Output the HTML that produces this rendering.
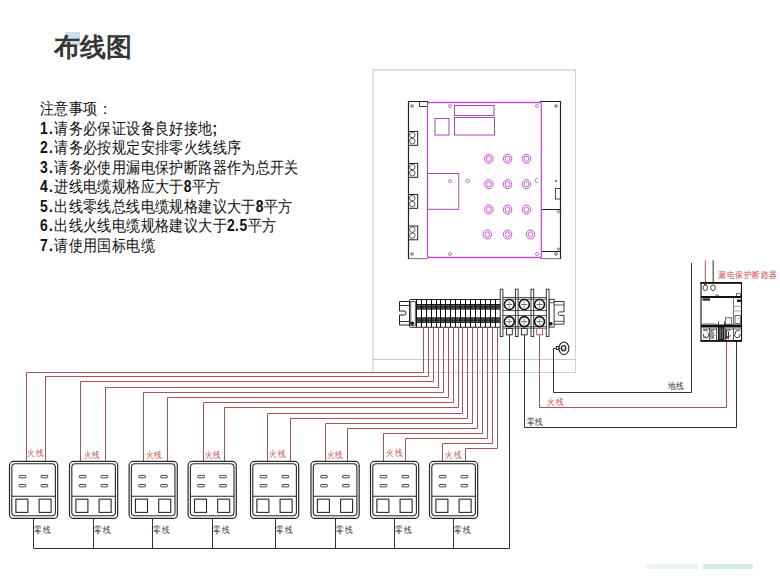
<!DOCTYPE html>
<html><head><meta charset="utf-8">
<style>
html,body{margin:0;padding:0;background:#fff;}
body{width:780px;height:585px;position:relative;overflow:hidden;font-family:"Liberation Sans",sans-serif;}
svg{position:absolute;left:0;top:0;}
.title{position:absolute;left:54px;top:27px;font-size:26px;font-weight:bold;color:#363636;letter-spacing:0px;line-height:40px;white-space:nowrap;}
.hl{position:absolute;left:65px;top:32px;width:15px;height:14px;background:#cde0ec;}
.notes{position:absolute;left:40px;top:99px;font-size:15.8px;line-height:19.5px;color:#111;white-space:nowrap;letter-spacing:0.35px;transform:scaleX(0.88);transform-origin:0 0;}
.notes b{font-weight:bold;letter-spacing:1.5px;}
.notes i{font-style:normal;font-weight:bold;letter-spacing:0.5px;}
.lr{font-size:9.2px;letter-spacing:0.3px;fill:#cc4a4e;font-family:"Liberation Sans",sans-serif;}
.lb{font-size:9.2px;letter-spacing:0.3px;fill:#333;font-family:"Liberation Sans",sans-serif;}
.lr2{font-size:9.2px;letter-spacing:0.4px;fill:#d24a4a;font-family:"Liberation Sans",sans-serif;}
.bar1{position:absolute;left:647px;top:564px;width:51px;height:5px;background:#e9f4f2;}
.bar2{position:absolute;left:703px;top:564px;width:50px;height:5px;background:#d3ece9;}
</style></head><body>
<div class="hl"></div>
<div class="title">布线图</div>
<div class="notes">注意事项：<br><b>1.</b>请务必保证设备良好接地<i>;</i><br><b>2.</b>请务必按规定安排零火线线序<br><b>3.</b>请务必使用漏电保护断路器作为总开关<br><b>4.</b>进线电缆规格应大于<i>8</i>平方<br><b>5.</b>出线零线总线电缆规格建议大于<i>8</i>平方<br><b>6.</b>出线火线电缆规格建议大于<i>2.5</i>平方<br><b>7.</b>请使用国标电缆</div>
<svg width="780" height="585" viewBox="0 0 780 585">
<path d="M373 372.5 V70 H575.5" fill="none" stroke="#e0e0e0" stroke-width="2"/>
<path d="M575.5 70 V372.5 H373" fill="none" stroke="#d2d2d2" stroke-width="1"/>
<line x1="373" y1="359.5" x2="575.5" y2="359.5" stroke="#c8c8c8" stroke-width="1"/>
<path d="M428 101.5 H408.5 V258.5 H428" fill="none" stroke="#222" stroke-width="1.2"/>
<path d="M540 101.5 H560.5 V258.5 H540" fill="none" stroke="#222" stroke-width="1.2"/>
<line x1="409" y1="258.6" x2="428" y2="258.6" stroke="#888" stroke-width="1.2"/>
<line x1="540" y1="258.6" x2="560" y2="258.6" stroke="#888" stroke-width="1.2"/>
<rect x="419.5" y="101.5" width="8" height="5" fill="none" stroke="#222" stroke-width="0.9"/>
<circle cx="412" cy="106" r="1.3" fill="none" stroke="#444" stroke-width="0.8"/>
<circle cx="556" cy="106" r="1.3" fill="none" stroke="#444" stroke-width="0.8"/>
<circle cx="412" cy="254" r="1.3" fill="none" stroke="#444" stroke-width="0.8"/>
<circle cx="556" cy="254" r="1.3" fill="none" stroke="#444" stroke-width="0.8"/>
<line x1="541" y1="209.5" x2="560.5" y2="209.5" stroke="#222" stroke-width="1"/>
<line x1="541" y1="251.5" x2="560.5" y2="251.5" stroke="#222" stroke-width="1"/>
<rect x="555.5" y="188.5" width="5" height="10.5" fill="none" stroke="#222" stroke-width="0.8"/>
<circle cx="556" cy="181" r="0.9" fill="#444"/>
<circle cx="558.5" cy="211.5" r="1.1" fill="none" stroke="#444" stroke-width="0.7"/>
<circle cx="558.5" cy="249" r="1.1" fill="none" stroke="#444" stroke-width="0.7"/>
<rect x="408.5" y="131.5" width="9.2" height="13.8" fill="#fff" stroke="#222" stroke-width="1"/>
<circle cx="412.3" cy="135.1" r="2.8" fill="none" stroke="#333" stroke-width="0.8"/>
<circle cx="412.3" cy="141.1" r="2.8" fill="none" stroke="#333" stroke-width="0.8"/>
<rect x="408.5" y="163.5" width="9.2" height="13.8" fill="#fff" stroke="#222" stroke-width="1"/>
<circle cx="412.3" cy="167.1" r="2.8" fill="none" stroke="#333" stroke-width="0.8"/>
<circle cx="412.3" cy="173.1" r="2.8" fill="none" stroke="#333" stroke-width="0.8"/>
<rect x="408.5" y="194.5" width="9.2" height="13.8" fill="#fff" stroke="#222" stroke-width="1"/>
<circle cx="412.3" cy="198.1" r="2.8" fill="none" stroke="#333" stroke-width="0.8"/>
<circle cx="412.3" cy="204.1" r="2.8" fill="none" stroke="#333" stroke-width="0.8"/>
<rect x="408.5" y="226" width="9.2" height="13.8" fill="#fff" stroke="#222" stroke-width="1"/>
<circle cx="412.3" cy="229.6" r="2.8" fill="none" stroke="#333" stroke-width="0.8"/>
<circle cx="412.3" cy="235.6" r="2.8" fill="none" stroke="#333" stroke-width="0.8"/>
<rect x="427.5" y="102.5" width="113.8" height="155" rx="2" fill="none" stroke="#c84fd6" stroke-width="1.3"/>
<rect x="454.5" y="105.5" width="39.5" height="10" fill="none" stroke="#a84aae" stroke-width="1"/>
<rect x="454.5" y="117.5" width="40" height="17.5" fill="none" stroke="#a84aae" stroke-width="1"/>
<rect x="435" y="118.5" width="14" height="16.5" fill="none" stroke="#a84aae" stroke-width="1"/>
<rect x="427.5" y="173.5" width="31.3" height="35.8" fill="none" stroke="#a84aae" stroke-width="1"/>
<circle cx="450" cy="106" r="1.5" fill="none" stroke="#c84fd6" stroke-width="0.8"/>
<circle cx="537" cy="106" r="1.5" fill="none" stroke="#c84fd6" stroke-width="0.8"/>
<circle cx="450" cy="254" r="1.5" fill="none" stroke="#c84fd6" stroke-width="0.8"/>
<circle cx="537" cy="254" r="1.5" fill="none" stroke="#c84fd6" stroke-width="0.8"/>
<circle cx="450" cy="181.2" r="1.5" fill="none" stroke="#c84fd6" stroke-width="0.8"/>
<circle cx="467.7" cy="181" r="1.8" fill="none" stroke="#c84fd6" stroke-width="0.8"/>
<path d="M538.2 178.6 A2 2.2 0 1 0 538.2 182.4" fill="none" stroke="#c84fd6" stroke-width="0.8"/>
<ellipse cx="488.8" cy="158.8" rx="4.2" ry="4.5" fill="none" stroke="#c84fd6" stroke-width="1"/>
<ellipse cx="488.8" cy="158.8" rx="2.3" ry="2.6" fill="none" stroke="#c84fd6" stroke-width="0.9"/>
<ellipse cx="507.6" cy="158.8" rx="4.2" ry="4.5" fill="none" stroke="#c84fd6" stroke-width="1"/>
<ellipse cx="507.6" cy="158.8" rx="2.3" ry="2.6" fill="none" stroke="#c84fd6" stroke-width="0.9"/>
<ellipse cx="526.4" cy="158.8" rx="4.2" ry="4.5" fill="none" stroke="#c84fd6" stroke-width="1"/>
<ellipse cx="526.4" cy="158.8" rx="2.3" ry="2.6" fill="none" stroke="#c84fd6" stroke-width="0.9"/>
<ellipse cx="488.8" cy="184.2" rx="4.2" ry="4.5" fill="none" stroke="#c84fd6" stroke-width="1"/>
<ellipse cx="488.8" cy="184.2" rx="2.3" ry="2.6" fill="none" stroke="#c84fd6" stroke-width="0.9"/>
<ellipse cx="507.6" cy="184.2" rx="4.2" ry="4.5" fill="none" stroke="#c84fd6" stroke-width="1"/>
<ellipse cx="507.6" cy="184.2" rx="2.3" ry="2.6" fill="none" stroke="#c84fd6" stroke-width="0.9"/>
<ellipse cx="526.4" cy="184.2" rx="4.2" ry="4.5" fill="none" stroke="#c84fd6" stroke-width="1"/>
<ellipse cx="526.4" cy="184.2" rx="2.3" ry="2.6" fill="none" stroke="#c84fd6" stroke-width="0.9"/>
<ellipse cx="488.8" cy="209.5" rx="4.2" ry="4.5" fill="none" stroke="#c84fd6" stroke-width="1"/>
<ellipse cx="488.8" cy="209.5" rx="2.3" ry="2.6" fill="none" stroke="#c84fd6" stroke-width="0.9"/>
<ellipse cx="507.6" cy="209.5" rx="4.2" ry="4.5" fill="none" stroke="#c84fd6" stroke-width="1"/>
<ellipse cx="507.6" cy="209.5" rx="2.3" ry="2.6" fill="none" stroke="#c84fd6" stroke-width="0.9"/>
<ellipse cx="526.4" cy="209.5" rx="4.2" ry="4.5" fill="none" stroke="#c84fd6" stroke-width="1"/>
<ellipse cx="526.4" cy="209.5" rx="2.3" ry="2.6" fill="none" stroke="#c84fd6" stroke-width="0.9"/>
<ellipse cx="487.3" cy="234.5" rx="4.2" ry="4.5" fill="none" stroke="#c84fd6" stroke-width="1"/>
<ellipse cx="487.3" cy="234.5" rx="2.3" ry="2.6" fill="none" stroke="#c84fd6" stroke-width="0.9"/>
<ellipse cx="507.6" cy="234.5" rx="4.2" ry="4.5" fill="none" stroke="#c84fd6" stroke-width="1"/>
<ellipse cx="507.6" cy="234.5" rx="2.3" ry="2.6" fill="none" stroke="#c84fd6" stroke-width="0.9"/>
<ellipse cx="530.5" cy="234.5" rx="4.2" ry="4.5" fill="none" stroke="#c84fd6" stroke-width="1"/>
<ellipse cx="530.5" cy="234.5" rx="2.3" ry="2.6" fill="none" stroke="#c84fd6" stroke-width="0.9"/>
<path d="M409.5 301.5 H399.5 V311 H404 A2 2 0 0 1 404 315 H399.5 V325 H409.5" fill="#fff" stroke="#222" stroke-width="1"/>
<line x1="399.5" y1="305.5" x2="409.5" y2="305.5" stroke="#222" stroke-width="0.9"/>
<line x1="399.5" y1="321.5" x2="409.5" y2="321.5" stroke="#222" stroke-width="0.9"/>
<rect x="409.5" y="299.5" width="91" height="27.8" rx="1" fill="#fff" stroke="#222" stroke-width="1"/>
<rect x="410.8" y="301.5" width="4.5" height="24" fill="#fff" stroke="#333" stroke-width="0.8"/>
<circle cx="412.3" cy="323.2" r="1.8" fill="#111"/>
<rect x="416.3" y="304" width="84" height="5.6" fill="#151515"/>
<rect x="416.3" y="317.3" width="84" height="5.6" fill="#151515"/>
<rect x="417.5" y="305.2" width="1.0" height="1.0" fill="#bbb"/>
<rect x="419.3" y="305.2" width="1.0" height="1.0" fill="#bbb"/>
<rect x="417.5" y="307.4" width="1.0" height="1.0" fill="#bbb"/>
<rect x="419.3" y="307.4" width="1.0" height="1.0" fill="#bbb"/>
<rect x="417.5" y="318.5" width="1.0" height="1.0" fill="#bbb"/>
<rect x="419.3" y="318.5" width="1.0" height="1.0" fill="#bbb"/>
<rect x="417.5" y="320.7" width="1.0" height="1.0" fill="#bbb"/>
<rect x="419.3" y="320.7" width="1.0" height="1.0" fill="#bbb"/>
<rect x="422.5" y="305.2" width="1.0" height="1.0" fill="#bbb"/>
<rect x="424.3" y="305.2" width="1.0" height="1.0" fill="#bbb"/>
<rect x="422.5" y="307.4" width="1.0" height="1.0" fill="#bbb"/>
<rect x="424.3" y="307.4" width="1.0" height="1.0" fill="#bbb"/>
<rect x="422.5" y="318.5" width="1.0" height="1.0" fill="#bbb"/>
<rect x="424.3" y="318.5" width="1.0" height="1.0" fill="#bbb"/>
<rect x="422.5" y="320.7" width="1.0" height="1.0" fill="#bbb"/>
<rect x="424.3" y="320.7" width="1.0" height="1.0" fill="#bbb"/>
<rect x="427.5" y="305.2" width="1.0" height="1.0" fill="#bbb"/>
<rect x="429.3" y="305.2" width="1.0" height="1.0" fill="#bbb"/>
<rect x="427.5" y="307.4" width="1.0" height="1.0" fill="#bbb"/>
<rect x="429.3" y="307.4" width="1.0" height="1.0" fill="#bbb"/>
<rect x="427.5" y="318.5" width="1.0" height="1.0" fill="#bbb"/>
<rect x="429.3" y="318.5" width="1.0" height="1.0" fill="#bbb"/>
<rect x="427.5" y="320.7" width="1.0" height="1.0" fill="#bbb"/>
<rect x="429.3" y="320.7" width="1.0" height="1.0" fill="#bbb"/>
<rect x="432.5" y="305.2" width="1.0" height="1.0" fill="#bbb"/>
<rect x="434.3" y="305.2" width="1.0" height="1.0" fill="#bbb"/>
<rect x="432.5" y="307.4" width="1.0" height="1.0" fill="#bbb"/>
<rect x="434.3" y="307.4" width="1.0" height="1.0" fill="#bbb"/>
<rect x="432.5" y="318.5" width="1.0" height="1.0" fill="#bbb"/>
<rect x="434.3" y="318.5" width="1.0" height="1.0" fill="#bbb"/>
<rect x="432.5" y="320.7" width="1.0" height="1.0" fill="#bbb"/>
<rect x="434.3" y="320.7" width="1.0" height="1.0" fill="#bbb"/>
<rect x="437.5" y="305.2" width="1.0" height="1.0" fill="#bbb"/>
<rect x="439.3" y="305.2" width="1.0" height="1.0" fill="#bbb"/>
<rect x="437.5" y="307.4" width="1.0" height="1.0" fill="#bbb"/>
<rect x="439.3" y="307.4" width="1.0" height="1.0" fill="#bbb"/>
<rect x="437.5" y="318.5" width="1.0" height="1.0" fill="#bbb"/>
<rect x="439.3" y="318.5" width="1.0" height="1.0" fill="#bbb"/>
<rect x="437.5" y="320.7" width="1.0" height="1.0" fill="#bbb"/>
<rect x="439.3" y="320.7" width="1.0" height="1.0" fill="#bbb"/>
<rect x="441.5" y="305.2" width="1.0" height="1.0" fill="#bbb"/>
<rect x="443.3" y="305.2" width="1.0" height="1.0" fill="#bbb"/>
<rect x="441.5" y="307.4" width="1.0" height="1.0" fill="#bbb"/>
<rect x="443.3" y="307.4" width="1.0" height="1.0" fill="#bbb"/>
<rect x="441.5" y="318.5" width="1.0" height="1.0" fill="#bbb"/>
<rect x="443.3" y="318.5" width="1.0" height="1.0" fill="#bbb"/>
<rect x="441.5" y="320.7" width="1.0" height="1.0" fill="#bbb"/>
<rect x="443.3" y="320.7" width="1.0" height="1.0" fill="#bbb"/>
<rect x="446.5" y="305.2" width="1.0" height="1.0" fill="#bbb"/>
<rect x="448.3" y="305.2" width="1.0" height="1.0" fill="#bbb"/>
<rect x="446.5" y="307.4" width="1.0" height="1.0" fill="#bbb"/>
<rect x="448.3" y="307.4" width="1.0" height="1.0" fill="#bbb"/>
<rect x="446.5" y="318.5" width="1.0" height="1.0" fill="#bbb"/>
<rect x="448.3" y="318.5" width="1.0" height="1.0" fill="#bbb"/>
<rect x="446.5" y="320.7" width="1.0" height="1.0" fill="#bbb"/>
<rect x="448.3" y="320.7" width="1.0" height="1.0" fill="#bbb"/>
<rect x="451.5" y="305.2" width="1.0" height="1.0" fill="#bbb"/>
<rect x="453.3" y="305.2" width="1.0" height="1.0" fill="#bbb"/>
<rect x="451.5" y="307.4" width="1.0" height="1.0" fill="#bbb"/>
<rect x="453.3" y="307.4" width="1.0" height="1.0" fill="#bbb"/>
<rect x="451.5" y="318.5" width="1.0" height="1.0" fill="#bbb"/>
<rect x="453.3" y="318.5" width="1.0" height="1.0" fill="#bbb"/>
<rect x="451.5" y="320.7" width="1.0" height="1.0" fill="#bbb"/>
<rect x="453.3" y="320.7" width="1.0" height="1.0" fill="#bbb"/>
<rect x="456.5" y="305.2" width="1.0" height="1.0" fill="#bbb"/>
<rect x="458.3" y="305.2" width="1.0" height="1.0" fill="#bbb"/>
<rect x="456.5" y="307.4" width="1.0" height="1.0" fill="#bbb"/>
<rect x="458.3" y="307.4" width="1.0" height="1.0" fill="#bbb"/>
<rect x="456.5" y="318.5" width="1.0" height="1.0" fill="#bbb"/>
<rect x="458.3" y="318.5" width="1.0" height="1.0" fill="#bbb"/>
<rect x="456.5" y="320.7" width="1.0" height="1.0" fill="#bbb"/>
<rect x="458.3" y="320.7" width="1.0" height="1.0" fill="#bbb"/>
<rect x="461.5" y="305.2" width="1.0" height="1.0" fill="#bbb"/>
<rect x="463.3" y="305.2" width="1.0" height="1.0" fill="#bbb"/>
<rect x="461.5" y="307.4" width="1.0" height="1.0" fill="#bbb"/>
<rect x="463.3" y="307.4" width="1.0" height="1.0" fill="#bbb"/>
<rect x="461.5" y="318.5" width="1.0" height="1.0" fill="#bbb"/>
<rect x="463.3" y="318.5" width="1.0" height="1.0" fill="#bbb"/>
<rect x="461.5" y="320.7" width="1.0" height="1.0" fill="#bbb"/>
<rect x="463.3" y="320.7" width="1.0" height="1.0" fill="#bbb"/>
<rect x="466.5" y="305.2" width="1.0" height="1.0" fill="#bbb"/>
<rect x="468.3" y="305.2" width="1.0" height="1.0" fill="#bbb"/>
<rect x="466.5" y="307.4" width="1.0" height="1.0" fill="#bbb"/>
<rect x="468.3" y="307.4" width="1.0" height="1.0" fill="#bbb"/>
<rect x="466.5" y="318.5" width="1.0" height="1.0" fill="#bbb"/>
<rect x="468.3" y="318.5" width="1.0" height="1.0" fill="#bbb"/>
<rect x="466.5" y="320.7" width="1.0" height="1.0" fill="#bbb"/>
<rect x="468.3" y="320.7" width="1.0" height="1.0" fill="#bbb"/>
<rect x="471.5" y="305.2" width="1.0" height="1.0" fill="#bbb"/>
<rect x="473.3" y="305.2" width="1.0" height="1.0" fill="#bbb"/>
<rect x="471.5" y="307.4" width="1.0" height="1.0" fill="#bbb"/>
<rect x="473.3" y="307.4" width="1.0" height="1.0" fill="#bbb"/>
<rect x="471.5" y="318.5" width="1.0" height="1.0" fill="#bbb"/>
<rect x="473.3" y="318.5" width="1.0" height="1.0" fill="#bbb"/>
<rect x="471.5" y="320.7" width="1.0" height="1.0" fill="#bbb"/>
<rect x="473.3" y="320.7" width="1.0" height="1.0" fill="#bbb"/>
<rect x="476.5" y="305.2" width="1.0" height="1.0" fill="#bbb"/>
<rect x="478.3" y="305.2" width="1.0" height="1.0" fill="#bbb"/>
<rect x="476.5" y="307.4" width="1.0" height="1.0" fill="#bbb"/>
<rect x="478.3" y="307.4" width="1.0" height="1.0" fill="#bbb"/>
<rect x="476.5" y="318.5" width="1.0" height="1.0" fill="#bbb"/>
<rect x="478.3" y="318.5" width="1.0" height="1.0" fill="#bbb"/>
<rect x="476.5" y="320.7" width="1.0" height="1.0" fill="#bbb"/>
<rect x="478.3" y="320.7" width="1.0" height="1.0" fill="#bbb"/>
<rect x="481.5" y="305.2" width="1.0" height="1.0" fill="#bbb"/>
<rect x="483.3" y="305.2" width="1.0" height="1.0" fill="#bbb"/>
<rect x="481.5" y="307.4" width="1.0" height="1.0" fill="#bbb"/>
<rect x="483.3" y="307.4" width="1.0" height="1.0" fill="#bbb"/>
<rect x="481.5" y="318.5" width="1.0" height="1.0" fill="#bbb"/>
<rect x="483.3" y="318.5" width="1.0" height="1.0" fill="#bbb"/>
<rect x="481.5" y="320.7" width="1.0" height="1.0" fill="#bbb"/>
<rect x="483.3" y="320.7" width="1.0" height="1.0" fill="#bbb"/>
<rect x="486.5" y="305.2" width="1.0" height="1.0" fill="#bbb"/>
<rect x="488.3" y="305.2" width="1.0" height="1.0" fill="#bbb"/>
<rect x="486.5" y="307.4" width="1.0" height="1.0" fill="#bbb"/>
<rect x="488.3" y="307.4" width="1.0" height="1.0" fill="#bbb"/>
<rect x="486.5" y="318.5" width="1.0" height="1.0" fill="#bbb"/>
<rect x="488.3" y="318.5" width="1.0" height="1.0" fill="#bbb"/>
<rect x="486.5" y="320.7" width="1.0" height="1.0" fill="#bbb"/>
<rect x="488.3" y="320.7" width="1.0" height="1.0" fill="#bbb"/>
<rect x="491.5" y="305.2" width="1.0" height="1.0" fill="#bbb"/>
<rect x="493.3" y="305.2" width="1.0" height="1.0" fill="#bbb"/>
<rect x="491.5" y="307.4" width="1.0" height="1.0" fill="#bbb"/>
<rect x="493.3" y="307.4" width="1.0" height="1.0" fill="#bbb"/>
<rect x="491.5" y="318.5" width="1.0" height="1.0" fill="#bbb"/>
<rect x="493.3" y="318.5" width="1.0" height="1.0" fill="#bbb"/>
<rect x="491.5" y="320.7" width="1.0" height="1.0" fill="#bbb"/>
<rect x="493.3" y="320.7" width="1.0" height="1.0" fill="#bbb"/>
<rect x="496.5" y="305.2" width="1.0" height="1.0" fill="#bbb"/>
<rect x="498.3" y="305.2" width="1.0" height="1.0" fill="#bbb"/>
<rect x="496.5" y="307.4" width="1.0" height="1.0" fill="#bbb"/>
<rect x="498.3" y="307.4" width="1.0" height="1.0" fill="#bbb"/>
<rect x="496.5" y="318.5" width="1.0" height="1.0" fill="#bbb"/>
<rect x="498.3" y="318.5" width="1.0" height="1.0" fill="#bbb"/>
<rect x="496.5" y="320.7" width="1.0" height="1.0" fill="#bbb"/>
<rect x="498.3" y="320.7" width="1.0" height="1.0" fill="#bbb"/>
<line x1="416.5" y1="300" x2="416.5" y2="327" stroke="#111" stroke-width="1"/>
<line x1="421.5" y1="300" x2="421.5" y2="327" stroke="#111" stroke-width="1"/>
<line x1="426.5" y1="300" x2="426.5" y2="327" stroke="#111" stroke-width="1"/>
<line x1="431.5" y1="300" x2="431.5" y2="327" stroke="#111" stroke-width="1"/>
<line x1="436.5" y1="300" x2="436.5" y2="327" stroke="#111" stroke-width="1"/>
<line x1="440.5" y1="300" x2="440.5" y2="327" stroke="#111" stroke-width="1"/>
<line x1="445.5" y1="300" x2="445.5" y2="327" stroke="#111" stroke-width="1"/>
<line x1="450.5" y1="300" x2="450.5" y2="327" stroke="#111" stroke-width="1"/>
<line x1="455.5" y1="300" x2="455.5" y2="327" stroke="#111" stroke-width="1"/>
<line x1="460.5" y1="300" x2="460.5" y2="327" stroke="#111" stroke-width="1"/>
<line x1="465.5" y1="300" x2="465.5" y2="327" stroke="#111" stroke-width="1"/>
<line x1="470.5" y1="300" x2="470.5" y2="327" stroke="#111" stroke-width="1"/>
<line x1="475.5" y1="300" x2="475.5" y2="327" stroke="#111" stroke-width="1"/>
<line x1="480.5" y1="300" x2="480.5" y2="327" stroke="#111" stroke-width="1"/>
<line x1="485.5" y1="300" x2="485.5" y2="327" stroke="#111" stroke-width="1"/>
<line x1="490.5" y1="300" x2="490.5" y2="327" stroke="#111" stroke-width="1"/>
<line x1="495.5" y1="300" x2="495.5" y2="327" stroke="#111" stroke-width="1"/>
<rect x="500.2" y="289.2" width="2.7" height="47.3" fill="#fff" stroke="#222" stroke-width="0.9"/>
<rect x="515.4" y="289.2" width="2.7" height="47.3" fill="#fff" stroke="#222" stroke-width="0.9"/>
<rect x="531" y="289.2" width="2.7" height="47.3" fill="#fff" stroke="#222" stroke-width="0.9"/>
<rect x="546.3" y="289.2" width="2.7" height="47.3" fill="#fff" stroke="#222" stroke-width="0.9"/>
<line x1="502.9" y1="297.5" x2="546.3" y2="297.5" stroke="#333" stroke-width="0.8"/>
<line x1="502.9" y1="299.2" x2="546.3" y2="299.2" stroke="#333" stroke-width="0.8"/>
<line x1="502.9" y1="310.5" x2="546.3" y2="310.5" stroke="#333" stroke-width="0.8"/>
<line x1="502.9" y1="315.5" x2="546.3" y2="315.5" stroke="#333" stroke-width="0.8"/>
<line x1="502.9" y1="326.6" x2="546.3" y2="326.6" stroke="#333" stroke-width="0.8"/>
<line x1="502.9" y1="328.2" x2="546.3" y2="328.2" stroke="#333" stroke-width="0.8"/>
<circle cx="509.3" cy="304.5" r="5.0" fill="#fff" stroke="#111" stroke-width="1.6"/>
<line x1="506.3" y1="304.5" x2="512.3" y2="304.5" stroke="#444" stroke-width="0.8"/>
<line x1="509.3" y1="301.0" x2="509.3" y2="308.0" stroke="#888" stroke-width="0.8"/>
<circle cx="509.3" cy="321.6" r="5.0" fill="#fff" stroke="#111" stroke-width="1.6"/>
<line x1="506.3" y1="321.6" x2="512.3" y2="321.6" stroke="#444" stroke-width="0.8"/>
<line x1="509.3" y1="318.1" x2="509.3" y2="325.1" stroke="#888" stroke-width="0.8"/>
<circle cx="524.3" cy="304.5" r="5.0" fill="#fff" stroke="#111" stroke-width="1.6"/>
<line x1="521.3" y1="304.5" x2="527.3" y2="304.5" stroke="#444" stroke-width="0.8"/>
<line x1="524.3" y1="301.0" x2="524.3" y2="308.0" stroke="#888" stroke-width="0.8"/>
<circle cx="524.3" cy="321.6" r="5.0" fill="#fff" stroke="#111" stroke-width="1.6"/>
<line x1="521.3" y1="321.6" x2="527.3" y2="321.6" stroke="#444" stroke-width="0.8"/>
<line x1="524.3" y1="318.1" x2="524.3" y2="325.1" stroke="#888" stroke-width="0.8"/>
<circle cx="539.5" cy="304.5" r="5.0" fill="#fff" stroke="#111" stroke-width="1.6"/>
<line x1="536.5" y1="304.5" x2="542.5" y2="304.5" stroke="#444" stroke-width="0.8"/>
<line x1="539.5" y1="301.0" x2="539.5" y2="308.0" stroke="#888" stroke-width="0.8"/>
<circle cx="539.5" cy="321.6" r="5.0" fill="#fff" stroke="#111" stroke-width="1.6"/>
<line x1="536.5" y1="321.6" x2="542.5" y2="321.6" stroke="#444" stroke-width="0.8"/>
<line x1="539.5" y1="318.1" x2="539.5" y2="325.1" stroke="#888" stroke-width="0.8"/>
<rect x="506.5" y="328.4" width="5.8" height="6.4" fill="#fff" stroke="#222" stroke-width="0.9"/>
<rect x="521.4" y="328.4" width="5.8" height="6.4" fill="#fff" stroke="#222" stroke-width="0.9"/>
<rect x="536.7" y="328.4" width="5.8" height="6.4" fill="#fff" stroke="#aa5259" stroke-width="0.9"/>
<path d="M554 301.5 H564 V311.9 H559.5 A1.8 1.8 0 0 0 559.5 315.4 H564 V324.2 H554" fill="#fff" stroke="#222" stroke-width="0.9"/>
<line x1="554" y1="305" x2="564" y2="305" stroke="#333" stroke-width="0.8"/>
<line x1="554" y1="321.3" x2="564" y2="321.3" stroke="#333" stroke-width="0.8"/>
<rect x="549.3" y="299.3" width="4.8" height="27.8" fill="#fff" stroke="#222" stroke-width="0.9"/>
<line x1="549.3" y1="302.7" x2="554" y2="302.7" stroke="#333" stroke-width="0.8"/>
<circle cx="550.9" cy="323.7" r="1.8" fill="#111"/>
<ellipse cx="563.9" cy="348.3" rx="5" ry="6.3" fill="#fff" stroke="#222" stroke-width="1.1"/>
<ellipse cx="563.6" cy="348.3" rx="2.2" ry="2.6" fill="none" stroke="#222" stroke-width="1.2"/>
<line x1="562.3" y1="348.8" x2="565" y2="348.8" stroke="#444" stroke-width="0.6"/>
<line x1="558.9" y1="348.3" x2="561.4" y2="348.3" stroke="#444" stroke-width="0.6"/>
<rect x="556.3" y="346.6" width="2.4" height="3" fill="#fff" stroke="#222" stroke-width="1"/>
<path d="M556 348.5 H553.5 V392.5 H691.5 V263" fill="none" stroke="#333" stroke-width="1"/>
<path d="M539.5 334.8 V407.5 H726.5 V341.5" fill="none" stroke="#aa5259" stroke-width="1"/>
<path d="M524.5 334.8 V427.5 H736.5 V341.5" fill="none" stroke="#333" stroke-width="1"/>
<path d="M509.5 334.8 V548.5 H33.5" fill="none" stroke="#333" stroke-width="1"/>
<line x1="705.3" y1="260.3" x2="705.3" y2="284" stroke="#aa5259" stroke-width="1"/>
<line x1="713.2" y1="260.3" x2="713.2" y2="284" stroke="#333" stroke-width="1"/>
<rect x="701" y="282.6" width="40.5" height="58.5" fill="#fff" stroke="#111" stroke-width="1.1"/>
<rect x="700.5" y="282" width="41.5" height="1.8" fill="#111"/>
<ellipse cx="705.3" cy="287.8" rx="2.3" ry="2.8" fill="#fff" stroke="#333" stroke-width="0.9"/>
<ellipse cx="713" cy="287.8" rx="2.3" ry="2.8" fill="#fff" stroke="#333" stroke-width="0.9"/>
<rect x="704" y="283.5" width="2.6" height="1.6" fill="#8a2a2a"/>
<path d="M715.6 296.5 A1.6 1.8 0 0 1 718.8 296.5" fill="none" stroke="#444" stroke-width="0.8"/>
<path d="M736.5 296.5 V293.5 H740.5 V296.5" fill="none" stroke="#444" stroke-width="0.8"/>
<rect x="701" y="296" width="40.5" height="2" fill="#111"/>
<rect x="702.5" y="298.3" width="7.5" height="2.4" fill="#333"/>
<line x1="733.5" y1="297" x2="733.5" y2="325" stroke="#555" stroke-width="0.8"/>
<rect x="737" y="299.5" width="4" height="2.5" fill="#222"/>
<line x1="733.5" y1="306.3" x2="741.5" y2="306.3" stroke="#777" stroke-width="0.7"/>
<line x1="733.5" y1="310.9" x2="741.5" y2="310.9" stroke="#777" stroke-width="0.7"/>
<rect x="725.4" y="317.8" width="6.3" height="6.4" fill="none" stroke="#444" stroke-width="0.8"/>
<rect x="735" y="315.5" width="5.5" height="8" fill="none" stroke="#444" stroke-width="0.8"/>
<line x1="737" y1="318.5" x2="739" y2="318.5" stroke="#666" stroke-width="0.6"/>
<line x1="701" y1="323.5" x2="716" y2="323.5" stroke="#999" stroke-width="0.7"/>
<line x1="718.5" y1="321.5" x2="718.5" y2="325" stroke="#222" stroke-width="0.8"/>
<line x1="724.5" y1="321.5" x2="724.5" y2="325" stroke="#222" stroke-width="0.8"/>
<rect x="701" y="324.5" width="40.5" height="3" fill="#111"/>
<rect x="717.8" y="327" width="6.8" height="13.5" fill="#2a2a2a"/>
<line x1="720.2" y1="328" x2="720.2" y2="339" stroke="#bbb" stroke-width="0.6"/>
<line x1="722.4" y1="328" x2="722.4" y2="339" stroke="#999" stroke-width="0.6"/>
<path d="M703.5 330.5 Q707 329 707.5 331.5 M703.6 334 A2.7 2.7 0 1 0 708 333.3" fill="none" stroke="#222" stroke-width="0.9"/>
<path d="M711 339 V330 H714.5 M713 339 V331.5" fill="none" stroke="#222" stroke-width="0.9"/>
<path d="M726.5 339 V330 H730.5 M728.5 339 V331.5" fill="none" stroke="#222" stroke-width="0.9"/>
<path d="M739.5 330.5 Q735 330 735.5 333.5 M739.8 334 A2.7 2.7 0 1 1 735.2 333.3" fill="none" stroke="#222" stroke-width="0.9"/>
<rect x="725.5" y="336" width="2.5" height="2.5" fill="#8a2a2a"/>
<path d="M702.5 329 H716.5 M726 329 H741" stroke="#333" stroke-width="0.8"/>
<path d="M709.5 328 V340 M716.5 328 V340 M725.5 328 V340 M733.5 328 V340" stroke="#333" stroke-width="0.8"/>
<path d="M703 338.5 L706 336 M712 338 L715 335 M728 338 L731 335" stroke="#444" stroke-width="0.7"/>
<rect x="700.5" y="340" width="41.5" height="1.6" fill="#111"/>
<path d="M423.5 327.4 V372.5 H26.5 V461.3" fill="none" stroke="#aa5259" stroke-width="1"/>
<path d="M428.5 327.4 V376.5 H45.5 V461.3" fill="none" stroke="#aa5259" stroke-width="1"/>
<path d="M433.5 327.4 V381.5 H80.5 V461.3" fill="none" stroke="#aa5259" stroke-width="1"/>
<path d="M438.5 327.4 V387.5 H105.5 V461.3" fill="none" stroke="#aa5259" stroke-width="1"/>
<path d="M443.5 327.4 V392.5 H143.5 V461.3" fill="none" stroke="#aa5259" stroke-width="1"/>
<path d="M448.5 327.4 V397.5 H167.5 V461.3" fill="none" stroke="#aa5259" stroke-width="1"/>
<path d="M453.5 327.4 V402.5 H203.5 V461.3" fill="none" stroke="#aa5259" stroke-width="1"/>
<path d="M458.5 327.4 V407.5 H224.5 V461.3" fill="none" stroke="#aa5259" stroke-width="1"/>
<path d="M462.5 327.4 V413.5 H267.5 V461.3" fill="none" stroke="#aa5259" stroke-width="1"/>
<path d="M467.5 327.4 V418.5 H290.5 V461.3" fill="none" stroke="#aa5259" stroke-width="1"/>
<path d="M472.5 327.4 V423.5 H325.5 V461.3" fill="none" stroke="#aa5259" stroke-width="1"/>
<path d="M477.5 327.4 V428.5 H347.5 V461.3" fill="none" stroke="#aa5259" stroke-width="1"/>
<path d="M482.5 327.4 V433.5 H383.5 V461.3" fill="none" stroke="#aa5259" stroke-width="1"/>
<path d="M487.5 327.4 V438.5 H405.5 V461.3" fill="none" stroke="#aa5259" stroke-width="1"/>
<path d="M492.5 327.4 V443.5 H442.5 V461.3" fill="none" stroke="#aa5259" stroke-width="1"/>
<path d="M497.5 327.4 V448.5 H465.5 V461.3" fill="none" stroke="#aa5259" stroke-width="1"/>
<rect x="9.5" y="461.4" width="48.2" height="57" rx="4" fill="#fff" stroke="#2a2a2a" stroke-width="1.2"/>
<rect x="11.8" y="463.7" width="43.6" height="52" rx="3.5" fill="none" stroke="#2a2a2a" stroke-width="1.1"/>
<line x1="11.8" y1="496.3" x2="55.4" y2="496.3" stroke="#2a2a2a" stroke-width="1.1"/>
<rect x="19.2" y="475.4" width="6.6" height="2.4" rx="0.5" fill="none" stroke="#333" stroke-width="0.9"/>
<rect x="41.1" y="475.4" width="6.6" height="2.4" rx="0.5" fill="none" stroke="#333" stroke-width="0.9"/>
<rect x="19.2" y="484.5" width="6.6" height="2.4" rx="0.5" fill="none" stroke="#333" stroke-width="0.9"/>
<rect x="41.1" y="484.5" width="6.6" height="2.4" rx="0.5" fill="none" stroke="#333" stroke-width="0.9"/>
<rect x="15.9" y="499.2" width="12" height="13.2" fill="none" stroke="#2a2a2a" stroke-width="1.1"/>
<rect x="39.1" y="499.2" width="12" height="13.2" fill="none" stroke="#2a2a2a" stroke-width="1.1"/>
<line x1="33.5" y1="518.5" x2="33.5" y2="548.5" stroke="#333" stroke-width="1"/>
<text transform="translate(36,456.0) scale(0.85,1)" text-anchor="middle" class="lr">火线</text>
<text transform="translate(34.2,533.4) scale(0.85,1)" class="lb">零线</text>
<rect x="69.5" y="461.4" width="48.2" height="57" rx="4" fill="#fff" stroke="#2a2a2a" stroke-width="1.2"/>
<rect x="71.8" y="463.7" width="43.6" height="52" rx="3.5" fill="none" stroke="#2a2a2a" stroke-width="1.1"/>
<line x1="71.8" y1="496.3" x2="115.4" y2="496.3" stroke="#2a2a2a" stroke-width="1.1"/>
<rect x="79.2" y="475.4" width="6.6" height="2.4" rx="0.5" fill="none" stroke="#333" stroke-width="0.9"/>
<rect x="101.1" y="475.4" width="6.6" height="2.4" rx="0.5" fill="none" stroke="#333" stroke-width="0.9"/>
<rect x="79.2" y="484.5" width="6.6" height="2.4" rx="0.5" fill="none" stroke="#333" stroke-width="0.9"/>
<rect x="101.1" y="484.5" width="6.6" height="2.4" rx="0.5" fill="none" stroke="#333" stroke-width="0.9"/>
<rect x="75.9" y="499.2" width="12" height="13.2" fill="none" stroke="#2a2a2a" stroke-width="1.1"/>
<rect x="99.1" y="499.2" width="12" height="13.2" fill="none" stroke="#2a2a2a" stroke-width="1.1"/>
<line x1="93.5" y1="518.5" x2="93.5" y2="548.5" stroke="#333" stroke-width="1"/>
<text transform="translate(92.4,458.0) scale(0.85,1)" text-anchor="middle" class="lr">火线</text>
<text transform="translate(94.2,533.4) scale(0.85,1)" class="lb">零线</text>
<rect x="129.1" y="461.4" width="48.2" height="57" rx="4" fill="#fff" stroke="#2a2a2a" stroke-width="1.2"/>
<rect x="131.4" y="463.7" width="43.6" height="52" rx="3.5" fill="none" stroke="#2a2a2a" stroke-width="1.1"/>
<line x1="131.4" y1="496.3" x2="175.0" y2="496.3" stroke="#2a2a2a" stroke-width="1.1"/>
<rect x="138.79999999999998" y="475.4" width="6.6" height="2.4" rx="0.5" fill="none" stroke="#333" stroke-width="0.9"/>
<rect x="160.7" y="475.4" width="6.6" height="2.4" rx="0.5" fill="none" stroke="#333" stroke-width="0.9"/>
<rect x="138.79999999999998" y="484.5" width="6.6" height="2.4" rx="0.5" fill="none" stroke="#333" stroke-width="0.9"/>
<rect x="160.7" y="484.5" width="6.6" height="2.4" rx="0.5" fill="none" stroke="#333" stroke-width="0.9"/>
<rect x="135.5" y="499.2" width="12" height="13.2" fill="none" stroke="#2a2a2a" stroke-width="1.1"/>
<rect x="158.7" y="499.2" width="12" height="13.2" fill="none" stroke="#2a2a2a" stroke-width="1.1"/>
<line x1="152.5" y1="518.5" x2="152.5" y2="548.5" stroke="#333" stroke-width="1"/>
<text transform="translate(154.5,457.7) scale(0.85,1)" text-anchor="middle" class="lr">火线</text>
<text transform="translate(153.2,533.4) scale(0.85,1)" class="lb">零线</text>
<rect x="188.1" y="461.4" width="48.2" height="57" rx="4" fill="#fff" stroke="#2a2a2a" stroke-width="1.2"/>
<rect x="190.4" y="463.7" width="43.6" height="52" rx="3.5" fill="none" stroke="#2a2a2a" stroke-width="1.1"/>
<line x1="190.4" y1="496.3" x2="234.0" y2="496.3" stroke="#2a2a2a" stroke-width="1.1"/>
<rect x="197.79999999999998" y="475.4" width="6.6" height="2.4" rx="0.5" fill="none" stroke="#333" stroke-width="0.9"/>
<rect x="219.7" y="475.4" width="6.6" height="2.4" rx="0.5" fill="none" stroke="#333" stroke-width="0.9"/>
<rect x="197.79999999999998" y="484.5" width="6.6" height="2.4" rx="0.5" fill="none" stroke="#333" stroke-width="0.9"/>
<rect x="219.7" y="484.5" width="6.6" height="2.4" rx="0.5" fill="none" stroke="#333" stroke-width="0.9"/>
<rect x="194.5" y="499.2" width="12" height="13.2" fill="none" stroke="#2a2a2a" stroke-width="1.1"/>
<rect x="217.7" y="499.2" width="12" height="13.2" fill="none" stroke="#2a2a2a" stroke-width="1.1"/>
<line x1="212.5" y1="518.5" x2="212.5" y2="548.5" stroke="#333" stroke-width="1"/>
<text transform="translate(213.4,457.6) scale(0.85,1)" text-anchor="middle" class="lr">火线</text>
<text transform="translate(213.2,533.4) scale(0.85,1)" class="lb">零线</text>
<rect x="250.5" y="461.4" width="48.2" height="57" rx="4" fill="#fff" stroke="#2a2a2a" stroke-width="1.2"/>
<rect x="252.8" y="463.7" width="43.6" height="52" rx="3.5" fill="none" stroke="#2a2a2a" stroke-width="1.1"/>
<line x1="252.8" y1="496.3" x2="296.4" y2="496.3" stroke="#2a2a2a" stroke-width="1.1"/>
<rect x="260.2" y="475.4" width="6.6" height="2.4" rx="0.5" fill="none" stroke="#333" stroke-width="0.9"/>
<rect x="282.1" y="475.4" width="6.6" height="2.4" rx="0.5" fill="none" stroke="#333" stroke-width="0.9"/>
<rect x="260.2" y="484.5" width="6.6" height="2.4" rx="0.5" fill="none" stroke="#333" stroke-width="0.9"/>
<rect x="282.1" y="484.5" width="6.6" height="2.4" rx="0.5" fill="none" stroke="#333" stroke-width="0.9"/>
<rect x="256.9" y="499.2" width="12" height="13.2" fill="none" stroke="#2a2a2a" stroke-width="1.1"/>
<rect x="280.1" y="499.2" width="12" height="13.2" fill="none" stroke="#2a2a2a" stroke-width="1.1"/>
<line x1="275.5" y1="518.5" x2="275.5" y2="548.5" stroke="#333" stroke-width="1"/>
<text transform="translate(277.8,457.0) scale(0.85,1)" text-anchor="middle" class="lr">火线</text>
<text transform="translate(276.2,533.4) scale(0.85,1)" class="lb">零线</text>
<rect x="311.0" y="461.4" width="48.2" height="57" rx="4" fill="#fff" stroke="#2a2a2a" stroke-width="1.2"/>
<rect x="313.3" y="463.7" width="43.6" height="52" rx="3.5" fill="none" stroke="#2a2a2a" stroke-width="1.1"/>
<line x1="313.3" y1="496.3" x2="356.9" y2="496.3" stroke="#2a2a2a" stroke-width="1.1"/>
<rect x="320.7" y="475.4" width="6.6" height="2.4" rx="0.5" fill="none" stroke="#333" stroke-width="0.9"/>
<rect x="342.6" y="475.4" width="6.6" height="2.4" rx="0.5" fill="none" stroke="#333" stroke-width="0.9"/>
<rect x="320.7" y="484.5" width="6.6" height="2.4" rx="0.5" fill="none" stroke="#333" stroke-width="0.9"/>
<rect x="342.6" y="484.5" width="6.6" height="2.4" rx="0.5" fill="none" stroke="#333" stroke-width="0.9"/>
<rect x="317.4" y="499.2" width="12" height="13.2" fill="none" stroke="#2a2a2a" stroke-width="1.1"/>
<rect x="340.6" y="499.2" width="12" height="13.2" fill="none" stroke="#2a2a2a" stroke-width="1.1"/>
<line x1="335.5" y1="518.5" x2="335.5" y2="548.5" stroke="#333" stroke-width="1"/>
<text transform="translate(335.5,457.6) scale(0.85,1)" text-anchor="middle" class="lr">火线</text>
<text transform="translate(336.2,533.4) scale(0.85,1)" class="lb">零线</text>
<rect x="370.5" y="461.4" width="48.2" height="57" rx="4" fill="#fff" stroke="#2a2a2a" stroke-width="1.2"/>
<rect x="372.8" y="463.7" width="43.6" height="52" rx="3.5" fill="none" stroke="#2a2a2a" stroke-width="1.1"/>
<line x1="372.8" y1="496.3" x2="416.4" y2="496.3" stroke="#2a2a2a" stroke-width="1.1"/>
<rect x="380.2" y="475.4" width="6.6" height="2.4" rx="0.5" fill="none" stroke="#333" stroke-width="0.9"/>
<rect x="402.1" y="475.4" width="6.6" height="2.4" rx="0.5" fill="none" stroke="#333" stroke-width="0.9"/>
<rect x="380.2" y="484.5" width="6.6" height="2.4" rx="0.5" fill="none" stroke="#333" stroke-width="0.9"/>
<rect x="402.1" y="484.5" width="6.6" height="2.4" rx="0.5" fill="none" stroke="#333" stroke-width="0.9"/>
<rect x="376.9" y="499.2" width="12" height="13.2" fill="none" stroke="#2a2a2a" stroke-width="1.1"/>
<rect x="400.1" y="499.2" width="12" height="13.2" fill="none" stroke="#2a2a2a" stroke-width="1.1"/>
<line x1="394.5" y1="518.5" x2="394.5" y2="548.5" stroke="#333" stroke-width="1"/>
<text transform="translate(394.6,456.4) scale(0.85,1)" text-anchor="middle" class="lr">火线</text>
<text transform="translate(395.2,533.4) scale(0.85,1)" class="lb">零线</text>
<rect x="429.5" y="461.4" width="48.2" height="57" rx="4" fill="#fff" stroke="#2a2a2a" stroke-width="1.2"/>
<rect x="431.8" y="463.7" width="43.6" height="52" rx="3.5" fill="none" stroke="#2a2a2a" stroke-width="1.1"/>
<line x1="431.8" y1="496.3" x2="475.4" y2="496.3" stroke="#2a2a2a" stroke-width="1.1"/>
<rect x="439.2" y="475.4" width="6.6" height="2.4" rx="0.5" fill="none" stroke="#333" stroke-width="0.9"/>
<rect x="461.1" y="475.4" width="6.6" height="2.4" rx="0.5" fill="none" stroke="#333" stroke-width="0.9"/>
<rect x="439.2" y="484.5" width="6.6" height="2.4" rx="0.5" fill="none" stroke="#333" stroke-width="0.9"/>
<rect x="461.1" y="484.5" width="6.6" height="2.4" rx="0.5" fill="none" stroke="#333" stroke-width="0.9"/>
<rect x="435.9" y="499.2" width="12" height="13.2" fill="none" stroke="#2a2a2a" stroke-width="1.1"/>
<rect x="459.1" y="499.2" width="12" height="13.2" fill="none" stroke="#2a2a2a" stroke-width="1.1"/>
<line x1="453.5" y1="518.5" x2="453.5" y2="548.5" stroke="#333" stroke-width="1"/>
<text transform="translate(454,458.0) scale(0.85,1)" text-anchor="middle" class="lr">火线</text>
<text transform="translate(454.2,533.4) scale(0.85,1)" class="lb">零线</text>
<text transform="translate(668,389.4) scale(0.85,1)" class="lb">地线</text>
<text transform="translate(547.4,404.8) scale(0.85,1)" class="lr">火线</text>
<text transform="translate(527,425.3) scale(0.85,1)" class="lb">零线</text>
<text transform="translate(718,278.3) scale(0.85,1)" class="lr2">漏电保护断路器</text>
</svg>
<div class="bar1"></div><div class="bar2"></div>
</body></html>
